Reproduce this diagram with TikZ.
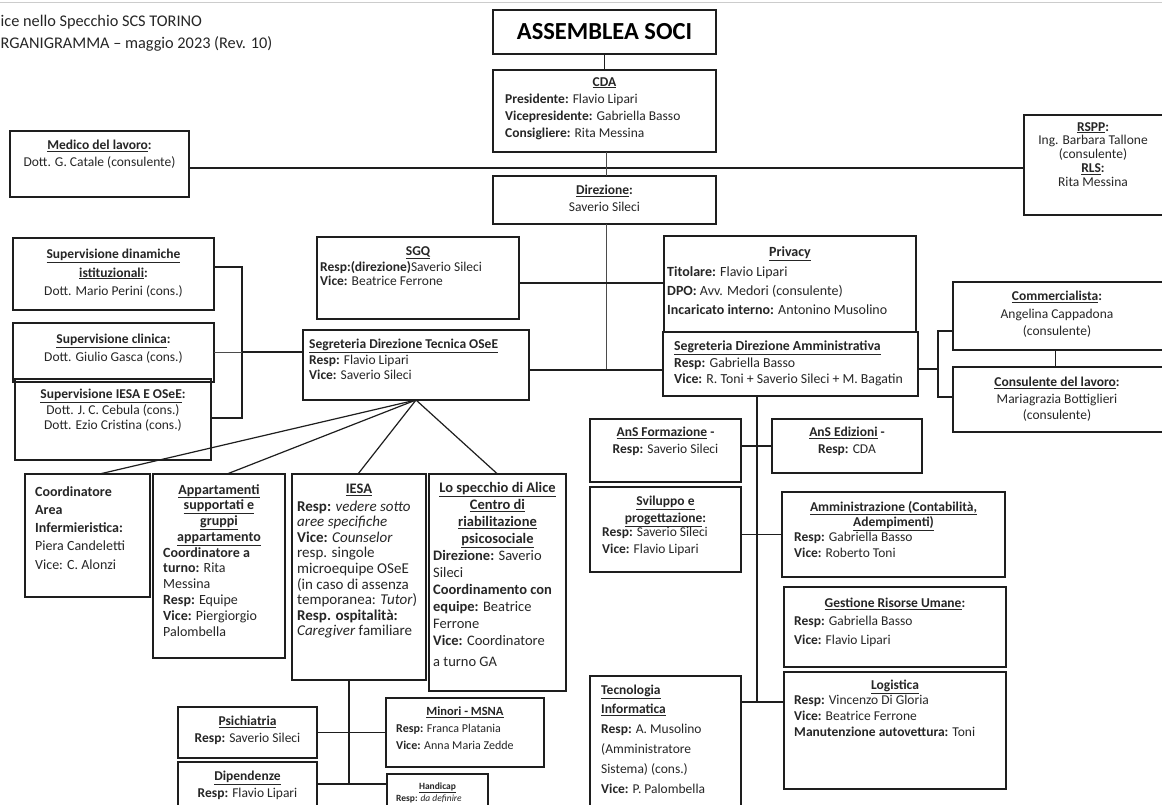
\documentclass[tikz,border=0pt]{standalone}
\usepackage{fontspec}
\setmainfont{Carlito}
\usetikzlibrary{calc}
\definecolor{ink}{HTML}{1E1E1E}
\definecolor{txt}{HTML}{262626}
\newcommand\uln[1]{\underline{#1}}
\newcommand\mkbox[5]{\node[bx, minimum width={(#4-#2)*1pt}, minimum height={(#5-#3)*1pt}] (#1) at (#2,#3) {};}
\begin{document}
\begin{tikzpicture}[x=1pt,y=-1pt,
  bx/.style={draw=ink, line width=1.5pt, rectangle, inner sep=0pt, outer sep=0pt, anchor=north west},
  tx/.style={inner sep=0pt, text=txt, font=\fontsize{13.5}{16.5}\selectfont},
  tc/.style={tx, anchor=north, align=center},
  tl/.style={tx, anchor=north west, align=left},
  thk/.style={draw=ink, line width=2.2pt},
  mid/.style={draw=ink, line width=1.5pt},
  thn/.style={draw=ink!80, line width=1pt},
  fan/.style={draw=ink, line width=1.2pt}]
\useasboundingbox[fill=white] (0,0) rectangle (1162,805);
\draw[black!20, line width=1pt] (0,2.5) -- (1162,2.5);

% title
\node[tl, font=\fontsize{16.3}{22}\selectfont] (title) at (0.5,14.5) {ice nello Specchio SCS TORINO\\RGANIGRAMMA – maggio 2023 (Rev. 10)};

% boxes
\mkbox{assemblea}{493}{10}{716}{54}
\mkbox{cda}{493}{70}{716}{152}
\mkbox{medico}{10}{131}{189}{197}
\mkbox{rspp}{1024}{115}{1164}{215}
\mkbox{direzione}{493}{176}{716}{224}
\mkbox{sgq}{317}{237}{519}{319}
\mkbox{privacy}{664}{236}{916}{332}
\mkbox{segtec}{303}{330}{529}{400}
\mkbox{segamm}{663}{332}{918}{396}
\mkbox{comm}{953}{282}{1164}{350}
\mkbox{cons}{953}{367}{1164}{432}
\mkbox{supA}{13}{238}{214}{310}
\mkbox{supB}{13}{323}{214}{382}
\mkbox{supC}{15}{379}{211}{460}
\mkbox{coord}{25}{474}{150}{597}
\mkbox{app}{153}{474}{285}{658}
\mkbox{iesa}{292}{474}{426}{680}
\mkbox{specchio}{429}{474}{566}{691}
\mkbox{psich}{178}{707}{317}{758}
\mkbox{dip}{178}{762}{317}{830}
\mkbox{minori}{386}{698}{544}{767}
\mkbox{handicap}{387}{774}{488}{830}
\mkbox{ansform}{590}{419}{741}{482}
\mkbox{svil}{590}{487}{741}{572}
\mkbox{ansedi}{772}{419}{922}{473}
\mkbox{amm}{782}{492}{1005}{577}
\mkbox{gest}{784}{587}{1006}{667}
\mkbox{logi}{784}{672}{1006}{789}
\mkbox{tecno}{590}{676}{741}{830}

% texts
\node[tx, text=black, font=\bfseries\fontsize{24.5}{28}\selectfont] (assembleaT) at (assemblea.center) {ASSEMBLEA SOCI};
\node[tc] (cdaH) at (604.5,77) {\textbf{\uln{CDA}}};
\node[tl, font=\fontsize{13.5}{16.7}\selectfont] (cdaB) at (505,94) {\textbf{Presidente:} Flavio Lipari\\\textbf{Vicepresidente:} Gabriella Basso\\\textbf{Consigliere:} Rita Messina};
\node[tc] (medicoT) at (99.5,140) {\textbf{\uln{Medico del lavoro}:}\\Dott. G. Catale (consulente)};
\node[tc, font=\fontsize{13.5}{13.8}\selectfont] (rsppT) at (1093,122) {\textbf{\uln{RSPP}:}\\Ing. Barbara Tallone\\(consulente)\\\textbf{\uln{RLS}:}\\Rita Messina};
\node[tc] (direzioneT) at (604.5,185) {\textbf{\uln{Direzione}:}\\Saverio Sileci};
\node[tc] (sgqH) at (418,246) {\textbf{\uln{SGQ}}};
\node[tl, font=\fontsize{13.5}{14.5}\selectfont] (sgqB) at (320,261) {\textbf{Resp:(direzione)}Saverio Sileci\\\textbf{Vice:} Beatrice Ferrone};
\node[tc, font=\fontsize{14}{19}\selectfont] (privacyH) at (790,246.5) {\textbf{\uln{Privacy}}};
\node[tl, font=\fontsize{14}{19}\selectfont] (privacyB) at (667,266.5) {\textbf{Titolare:} Flavio Lipari\\\textbf{DPO:} Avv. Medori (consulente)\\\textbf{Incaricato interno:} Antonino Musolino};
\node[tl, font=\fontsize{13.5}{15.5}\selectfont] (segtecT) at (309,339) {\textbf{\uln{Segreteria Direzione Tecnica OSeE}}\\\textbf{Resp:} Flavio Lipari\\\textbf{Vice:} Saverio Sileci};
\node[tl, font=\fontsize{13.8}{16.5}\selectfont] (segammT) at (674,341) {\textbf{\uln{Segreteria Direzione Amministrativa}}\\\textbf{Resp:} Gabriella Basso\\\textbf{Vice:} R. Toni + Saverio Sileci + M. Bagatin};
\node[tc, font=\fontsize{13.5}{17.5}\selectfont] (commT) at (1057,291) {\textbf{\uln{Commercialista}:}\\Angelina Cappadona\\(consulente)};
\node[tc] (consT) at (1057,377) {\textbf{\uln{Consulente del lavoro}:}\\Mariagrazia Bottiglieri\\(consulente)};
\node[tc, font=\fontsize{13.5}{18.5}\selectfont] (supAT) at (113.5,249) {\textbf{\uln{Supervisione dinamiche}}\\\textbf{\uln{istituzionali}:}\\Dott. Mario Perini (cons.)};
\node[tc, font=\fontsize{13.5}{18}\selectfont] (supBT) at (113.5,334) {\textbf{\uln{Supervisione clinica}:}\\Dott. Giulio Gasca (cons.)};
\node[tc, font=\fontsize{13.5}{15.5}\selectfont] (supCT) at (113,389) {\textbf{\uln{Supervisione IESA E OSeE}:}\\Dott. J. C. Cebula (cons.)\\Dott. Ezio Cristina (cons.)};

\node[tl, font=\fontsize{14}{18.3}\selectfont] (coordT) at (35,486) {\textbf{Coordinatore}\\\textbf{Area}\\\textbf{Infermieristica:}\\Piera Candeletti\\Vice: C. Alonzi};
\node[tc, font=\fontsize{14}{15.7}\selectfont] (appH) at (219,484) {\textbf{\uln{Appartamenti}}\\\textbf{\uln{supportati e}}\\\textbf{\uln{gruppi}}\\\textbf{\uln{appartamento}}};
\node[tl, font=\fontsize{14}{15.8}\selectfont] (appB) at (163,547) {\textbf{Coordinatore a}\\\textbf{turno:} Rita\\Messina\\\textbf{Resp:} Equipe\\\textbf{Vice:} Piergiorgio\\Palombella};
\node[tc, font=\fontsize{14.5}{15.7}\selectfont] (iesaH) at (359,483.5) {\textbf{\uln{IESA}}};
\node[tl, font=\fontsize{15}{15.6}\selectfont] (iesaB) at (297,500.5) {\textbf{Resp:} \textit{vedere sotto}\\\textit{aree specifiche}\\\textbf{Vice:} \textit{Counselor}\\resp. singole\\microequipe OSeE\\(in caso di assenza\\temporanea: \textit{Tutor})\\\textbf{Resp. ospitalità:}\\\textit{Caregiver} familiare};
\node[tc, font=\fontsize{14.5}{17}\selectfont] (specchioH) at (497.5,482.5) {\textbf{\uln{Lo specchio di Alice}}\\\textbf{\uln{Centro di}}\\\textbf{\uln{riabilitazione}}\\\textbf{\uln{psicosociale}}};
\node[tl, font=\fontsize{14.5}{17}\selectfont] (specchioB) at (433,550.5) {\textbf{Direzione:} Saverio\\Sileci\\\textbf{Coordinamento con}\\\textbf{equipe:} Beatrice\\Ferrone\\\textbf{Vice:} Coordinatore\\[4pt]a turno GA};

\node[tc] (psichT) at (247.5,716) {\textbf{\uln{Psichiatria}}\\\textbf{Resp:} Saverio Sileci};
\node[tc] (dipT) at (247.5,771) {\textbf{\uln{Dipendenze}}\\\textbf{Resp:} Flavio Lipari};
\node[tc, font=\fontsize{12.5}{17}\selectfont] (minoriH) at (465,707) {\textbf{\uln{Minori - MSNA}}};
\node[tl, font=\fontsize{12}{17.5}\selectfont] (minoriB) at (396,723.5) {\textbf{Resp:} Franca Platania\\\textbf{Vice:} Anna Maria Zedde};
\node[tc, font=\fontsize{9.5}{12}\selectfont] (handicapH) at (437.5,782.5) {\textbf{\uln{Handicap}}};
\node[tl, font=\fontsize{9.5}{12}\selectfont] (handicapB) at (396,794.5) {\textbf{Resp:} \textit{da definire}};

\node[tc] (ansformT) at (665.5,427) {\textbf{\uln{AnS Formazione} -}\\\textbf{Resp:} Saverio Sileci};
\node[tc] (svilH) at (665.5,496) {\textbf{\uln{Sviluppo e}}\\\textbf{\uln{progettazione}:}};
\node[tl] (svilB) at (602,527) {\textbf{Resp:} Saverio Sileci\\\textbf{Vice:} Flavio Lipari};
\node[tc] (ansediT) at (847,427) {\textbf{\uln{AnS Edizioni} -}\\\textbf{Resp:} CDA};
\node[tc, font=\fontsize{13.5}{15.5}\selectfont] (ammH) at (893.5,501) {\textbf{\uln{Amministrazione (Contabilità,}}\\\textbf{\uln{Adempimenti)}}};
\node[tl, font=\fontsize{13.5}{15.5}\selectfont] (ammB) at (794,532) {\textbf{Resp:} Gabriella Basso\\\textbf{Vice:} Roberto Toni};
\node[tc] (gestH) at (895,598) {\textbf{\uln{Gestione Risorse Umane}:}};
\node[tl, font=\fontsize{13.5}{19}\selectfont] (gestB) at (794,616) {\textbf{Resp:} Gabriella Basso\\\textbf{Vice:} Flavio Lipari};
\node[tc] (logiH) at (895,680) {\textbf{\uln{Logistica}}};
\node[tl, font=\fontsize{13.5}{16}\selectfont] (logiB) at (794,695) {\textbf{Resp:} Vincenzo Di Gloria\\\textbf{Vice:} Beatrice Ferrone\\\textbf{Manutenzione autovettura:} Toni};
\node[tl, font=\fontsize{13.5}{19.8}\selectfont] (tecnoT) at (601,684.5) {\textbf{\uln{Tecnologia}}\\\textbf{\uln{Informatica}}\\\textbf{Resp:} A. Musolino\\(Amministratore\\Sistema) (cons.)\\\textbf{Vice:} P. Palombella};

% connectors
\coordinate (hA) at (600,168);
\draw[thk] (medico.east |- hA) -- (rspp.west |- hA);
\draw[mid] (assemblea.south) -- (cda.north);
\draw[thn] ([xshift=1.5pt]cda.south) -- ([xshift=1.5pt]direzione.north);
\coordinate (jS) at (606,370);
\draw[thn] ([xshift=1.5pt]direzione.south) -- (jS);
\draw[thk] (segtec.east |- jS) -- (segamm.west |- jS);
\coordinate (jQ) at (600,283);
\draw[thk] (sgq.east |- jQ) -- (privacy.west |- jQ);

\coordinate (bL) at (242,267);
\coordinate (bL2) at (242,418);
\coordinate (bLm) at (242,352);
\draw[thk] (supA.east |- bL) -- (bL) -- (bL2) -- (supC.east |- bL2);
\draw[thn] (supB.east |- bLm) -- (bLm);
\draw[thk] (bLm) -- (segtec.west |- bLm);

\draw[fan] (segtec.south) -- ([xshift=12pt]coord.north);
\draw[fan] (segtec.south) -- ([xshift=8pt]app.north);
\draw[fan] (segtec.south) -- ([xshift=-1pt]iesa.north);
\draw[fan] (segtec.south) -- (specchio.north);

\coordinate (iv) at (349,784);
\draw[mid] ([xshift=-10pt]iesa.south) -- (iv);
\draw[mid] (psich.east) -- (minori.west);
\draw[mid] (dip.east |- iv) -- (handicap.west |- iv);

\coordinate (rv) at (757,702);
\draw[mid] (segamm.south -| rv) -- (rv);
\draw[mid] (ansform.east |- ansedi.west) -- (ansedi.west);
\draw[mid] (svil.east |- amm.west) -- (amm.west);
\draw[thk] (tecno.east |- rv) -- (logi.west |- rv);

\coordinate (rb) at (938,369);
\coordinate (rb1) at (938,331);
\coordinate (rb2) at (938,397);
\draw[thk] (segamm.east |- rb) -- (rb);
\draw[thk] (comm.west |- rb1) -- (rb1) -- (rb2) -- (cons.west |- rb2);
\draw[mid] ([xshift=-3pt]comm.south) -- ([xshift=-3pt]cons.north);
\end{tikzpicture}
\end{document}
